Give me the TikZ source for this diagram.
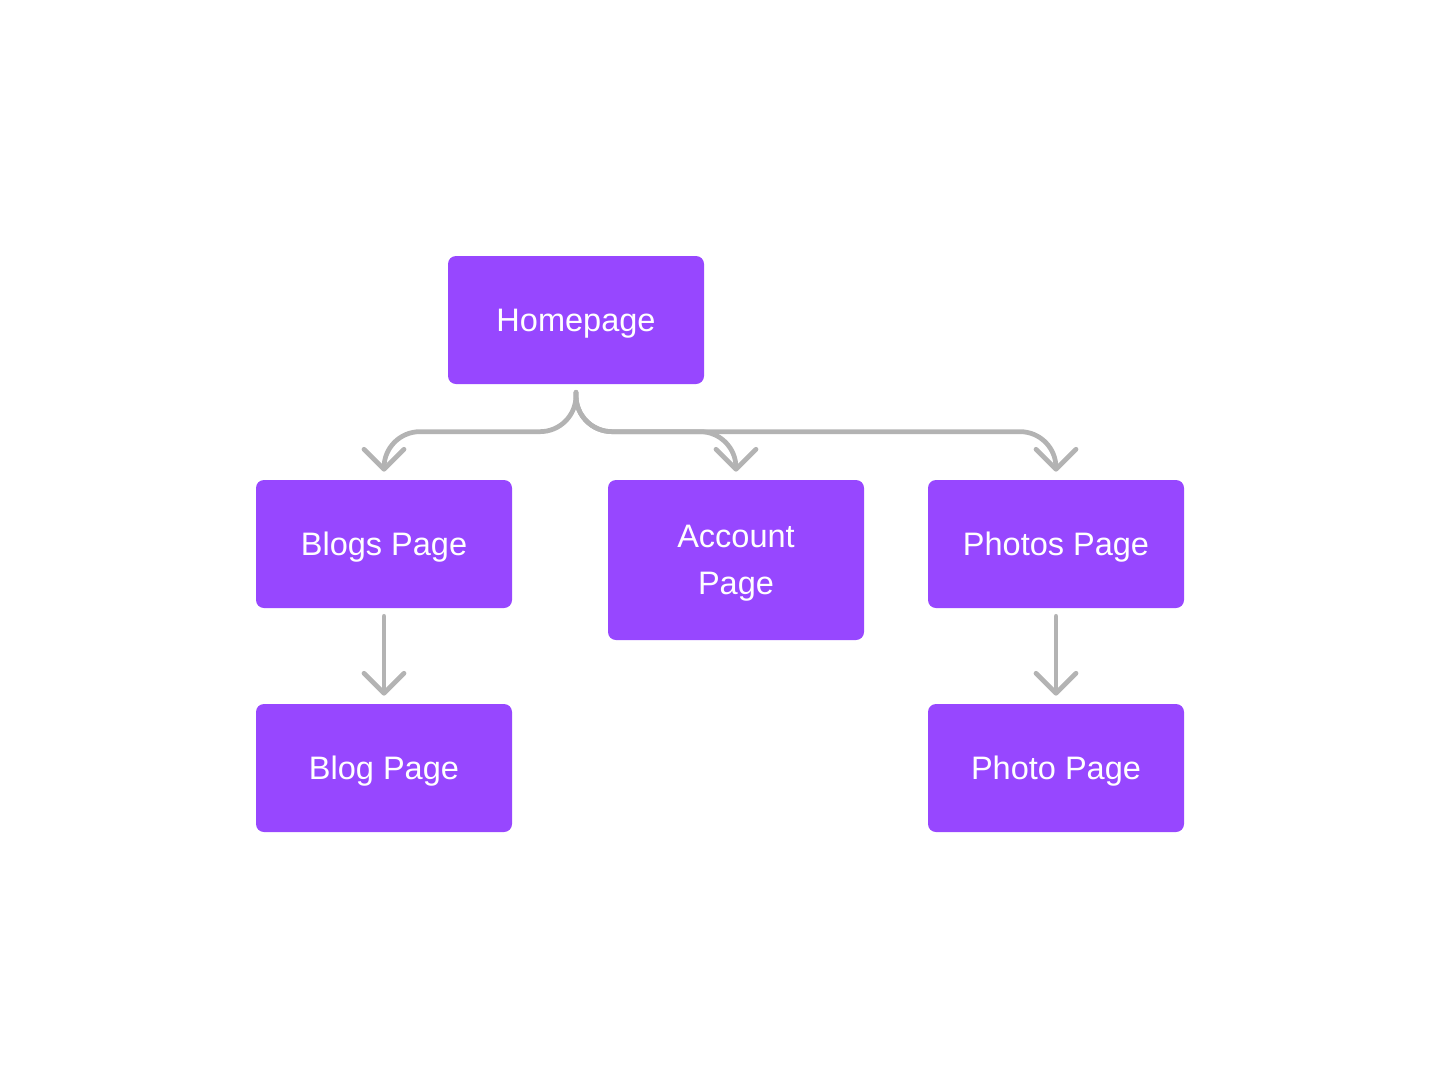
\documentclass[tikz,border=0pt]{standalone}
\usepackage{fontspec}
\setmainfont{Liberation Sans}
\usepackage{tikz}
\usepackage{xcolor}
\usetikzlibrary{arrows.meta}

\definecolor{pagepurple}{HTML}{9747FF}
\definecolor{linkgray}{HTML}{B3B3B3}

\begin{document}
\begin{tikzpicture}[
  pagebox/.style={fill=pagepurple, rounded corners=0.16cm, minimum width=5.12cm,
    minimum height=2.56cm, text=white, align=center, text depth=0pt,
    font=\fontsize{18.5}{27}\selectfont},
  link/.style={draw=linkgray, line width=0.095cm, line cap=round, rounded corners=0.72cm,
    -{Straight Barb[length=0.4cm, width=0.8cm, round]}}
]
\useasboundingbox (0,0) rectangle (28.8,-21.76);

% top level
\node[pagebox] (home) at (11.52,-6.4) {Homepage};

% second level
\node[pagebox] (blogs) at (7.68,-10.88) {Blogs Page};
\node[pagebox, minimum height=3.2cm] (account) at (14.72,-11.2) {Account\\Page};
\node[pagebox] (photos) at (21.12,-10.88) {Photos Page};

% third level
\node[pagebox] (blog) at (7.68,-15.36) {Blog Page};
\node[pagebox] (photo) at (21.12,-15.36) {Photo Page};

% branches from homepage
\draw[link] ([yshift=-0.16cm]home.south) |- ([yshift=0.96cm]blogs.north) -- ([yshift=0.16cm]blogs.north);
\draw[link] ([yshift=-0.16cm]home.south) |- ([yshift=0.96cm]account.north) -- ([yshift=0.16cm]account.north);
\draw[link] ([yshift=-0.16cm]home.south) |- ([yshift=0.96cm]photos.north) -- ([yshift=0.16cm]photos.north);

% down to single pages
\draw[link] ([yshift=-0.16cm]blogs.south) -- ([yshift=0.16cm]blog.north);
\draw[link] ([yshift=-0.16cm]photos.south) -- ([yshift=0.16cm]photo.north);
\end{tikzpicture}
\end{document}
